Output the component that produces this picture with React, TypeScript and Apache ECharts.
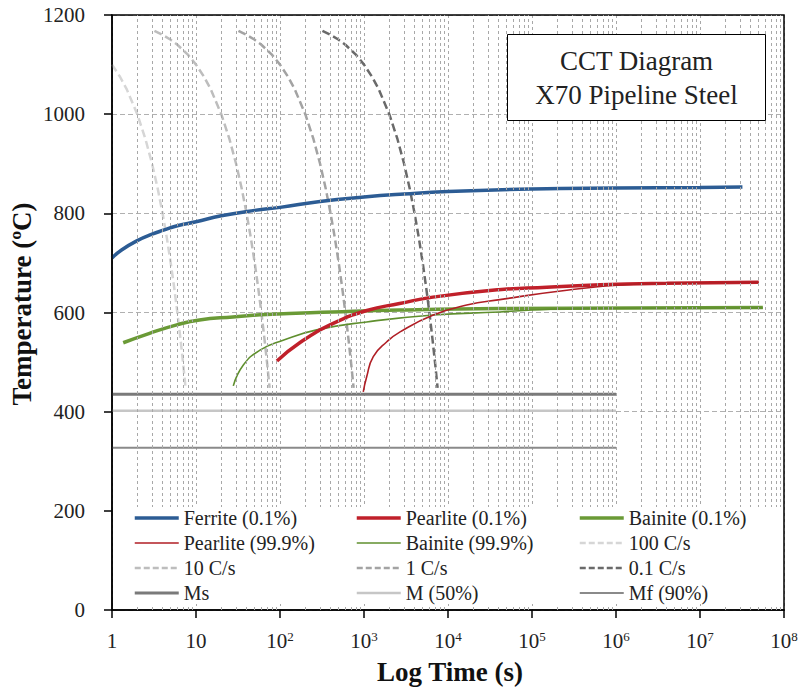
import React, { useEffect, useRef } from "react";
import * as echarts from "echarts";

const FONT = "'Liberation Serif', 'Times New Roman', serif";

// [time (s), temperature (°C)]
const ferrite01 = [[1, 710], [1.3, 726], [2, 745], [3, 758], [4.1, 766], [6, 775], [10, 783], [20, 795], [50, 806], [100, 812], [300, 824], [1000, 833], [3000, 839], [10000, 844], [100000, 849], [1000000, 851], [10000000, 852], [32000000, 853]];
const pearlite01 = [[92, 502], [175, 540], [430, 578], [1080, 604], [2650, 618], [6600, 631], [40000, 646], [150000, 651], [650000, 656], [4000000, 659], [50000000, 661]];
const pearlite999 = [[980, 440], [1075, 470], [1290, 511], [1870, 541], [2690, 561], [6680, 595], [16700, 615], [41400, 626], [260000, 645], [1600000, 657], [10000000, 660], [50000000, 661]];
const bainite01 = [[1.36, 539], [2.8, 558], [5.9, 575], [11, 585], [27.5, 591], [69, 596], [427, 601], [2680, 605], [41400, 608], [56000000, 610]];
const bainite999 = [[27.8, 452], [36.6, 494], [57.8, 524], [109, 544], [273, 565], [1077, 581], [6680, 595], [41400, 601], [100000, 605], [640000, 608.5], [56000000, 609]];
const cool100 = [[1, 1100], [1.25, 1075], [1.5, 1050], [2, 1000], [2.5, 950], [3, 900], [3.5, 850], [4, 800], [4.5, 750], [5, 700], [5.5, 650], [6, 600], [6.5, 550], [7, 500], [7.52, 448]];
const cool10 = [[3.2, 1168], [4, 1160], [5, 1150], [6, 1140], [8, 1120], [10, 1100], [12.5, 1075], [15, 1050], [20, 1000], [25, 950], [30, 900], [35, 850], [40, 800], [45, 750], [50, 700], [55, 650], [60, 600], [65, 550], [70, 500], [75.2, 448]];
const cool1 = [[32, 1168], [40, 1160], [50, 1150], [60, 1140], [80, 1120], [100, 1100], [125, 1075], [150, 1050], [200, 1000], [250, 950], [300, 900], [350, 850], [400, 800], [450, 750], [500, 700], [550, 650], [600, 600], [650, 550], [700, 500], [752, 448]];
const cool01 = [[320, 1168], [400, 1160], [500, 1150], [600, 1140], [800, 1120], [1000, 1100], [1250, 1075], [1500, 1050], [2000, 1000], [2500, 950], [3000, 900], [3500, 850], [4000, 800], [4500, 750], [5000, 700], [5500, 650], [6000, 600], [6500, 550], [7000, 500], [7520, 448]];
const msLine = [[1, 435], [1000000, 435]];
const m50Line = [[1, 402], [1000000, 402]];
const mfLine = [[1, 327], [1000000, 327]];

const legendCol1 = ["Ferrite (0.1%)", "Pearlite (99.9%)", "10 C/s", "Ms"];
const legendCol2 = ["Pearlite (0.1%)", "Bainite (99.9%)", "1 C/s", "M (50%)"];
const legendCol3 = ["Bainite (0.1%)", "100 C/s", "0.1 C/s", "Mf (90%)"];

const titleLines = ["CCT Diagram", "X70 Pipeline Steel"];

const DASH = [8, 4];

const seriesDefs: { name: string; data: number[][]; color: string; width: number; dash?: number[]; smooth?: number }[] = [
  { name: "100 C/s", data: cool100, color: "#d6d6d6", width: 2.5, dash: DASH },
  { name: "10 C/s", data: cool10, color: "#bdbdbd", width: 2.5, dash: DASH },
  { name: "1 C/s", data: cool1, color: "#a3a3a3", width: 2.5, dash: DASH },
  { name: "0.1 C/s", data: cool01, color: "#6a6a6a", width: 2.5, dash: DASH },
  { name: "Ms", data: msLine, color: "#7a7a7a", width: 3 },
  { name: "M (50%)", data: m50Line, color: "#c6c6c6", width: 2.5 },
  { name: "Mf (90%)", data: mfLine, color: "#8a8a8a", width: 2 },
  { name: "Ferrite (0.1%)", data: ferrite01, color: "#2c5c94", width: 3.5, smooth: 0.5 },
  { name: "Bainite (0.1%)", data: bainite01, color: "#6a9a36", width: 3.5, smooth: 0.5 },
  { name: "Bainite (99.9%)", data: bainite999, color: "#5f8f2e", width: 1.6, smooth: 0.5 },
  { name: "Pearlite (0.1%)", data: pearlite01, color: "#c0202a", width: 3.5, smooth: 0.5 },
  { name: "Pearlite (99.9%)", data: pearlite999, color: "#b01e25", width: 1.6, smooth: 0.5 },
];

function legendData(names: string[]) {
  return names.map((n) => {
    const s = seriesDefs.find((d) => d.name === n)!;
    return {
      name: n,
      itemStyle: { color: s.color, borderWidth: 0, opacity: 0 },
      lineStyle: { color: s.color, width: s.width, type: s.dash ? [6, 3] : "solid", opacity: 1 },
    };
  });
}

export default function App() {
  const ref = useRef<HTMLDivElement>(null);
  useEffect(() => {
    if (!ref.current) return;
    const chart = echarts.init(ref.current, undefined, { renderer: "svg" });

    const minorLines: { xAxis: number }[] = [];
    for (let d = 0; d < 8; d++) {
      for (let k = 2; k <= 9; k++) minorLines.push({ xAxis: k * Math.pow(10, d) });
    }

    const legendBase = {
      orient: "vertical",
      top: 508,
      padding: 0,
      itemWidth: 44,
      itemHeight: 14,
      itemGap: 5,
      z: 60,
      selectedMode: false,
      textStyle: { fontFamily: FONT, fontSize: 20, color: "#222" },
    };

    chart.setOption({
      animation: false,
      backgroundColor: "#fff",
      textStyle: { fontFamily: FONT },
      grid: { left: 112, right: 17, top: 15, bottom: 79, show: true, borderColor: "#000", borderWidth: 1.5, z: 3 },
      xAxis: {
        type: "log",
        logBase: 10,
        min: 1,
        max: 100000000,
        splitNumber: 8,
        axisLine: { show: true, lineStyle: { color: "#000", width: 1.5 } },
        axisTick: { show: true, length: 8, lineStyle: { color: "#000", width: 1.5 } },
        splitLine: { show: true, lineStyle: { color: "#a8a8a8", type: [3, 3], width: 1 } },
        axisLabel: {
          margin: 20,
          color: "#222",
          fontFamily: FONT,
          fontSize: 21,
          formatter: (v: number) => {
            const e = Math.round(Math.log10(v));
            if (e === 0) return "1";
            if (e === 1) return "10";
            return "{b|10}{s|" + e + "}";
          },
          rich: {
            b: { fontFamily: FONT, fontSize: 21, color: "#222", lineHeight: 22 },
            s: { fontFamily: FONT, fontSize: 13, color: "#222", verticalAlign: "top", lineHeight: 14 },
          },
        },
      },
      yAxis: {
        type: "value",
        min: 0,
        max: 1200,
        interval: 200,
        axisLine: { show: true, lineStyle: { color: "#000", width: 1.5 } },
        axisTick: { show: true, length: 8, lineStyle: { color: "#000", width: 1.5 } },
        splitLine: { show: true, lineStyle: { color: "#b0b0b0", type: [5, 3], width: 1 } },
        axisLabel: { margin: 27, color: "#222", fontFamily: FONT, fontSize: 21, formatter: (v: number) => String(v) },
      },
      legend: [
        { ...legendBase, left: 133, data: legendData(legendCol1) },
        { ...legendBase, left: 355, data: legendData(legendCol2) },
        { ...legendBase, left: 578, data: legendData(legendCol3) },
      ],
      graphic: [
        { type: "rect", z: 50, shape: { x: 113, y: 507, width: 670, height: 97 }, style: { fill: "#fff" } },
        { type: "rect", z: 50, shape: { x: 507.5, y: 34.5, width: 258, height: 86 }, style: { fill: "#fff", stroke: "#000", lineWidth: 1 } },
        { type: "text", z: 51, x: 636.5, y: 61, style: { text: titleLines[0], fill: "#222", font: `27px ${FONT}`, textAlign: "center", textVerticalAlign: "middle" } },
        { type: "text", z: 51, x: 636.5, y: 95, style: { text: titleLines[1], fill: "#222", font: `27px ${FONT}`, textAlign: "center", textVerticalAlign: "middle" } },
        { type: "text", z: 51, x: 22, y: 304, rotation: Math.PI / 2, style: { text: "Temperature (ºC)", fill: "#111", font: `bold 27px ${FONT}`, textAlign: "center", textVerticalAlign: "middle" } },
        { type: "text", z: 51, x: 450, y: 672, style: { text: "Log Time (s)", fill: "#111", font: `bold 27px ${FONT}`, textAlign: "center", textVerticalAlign: "middle" } },
      ],
      series: [
        {
          type: "line",
          data: [],
          silent: true,
          z: 1,
          markLine: {
            silent: true,
            symbol: ["none", "none"],
            label: { show: false },
            lineStyle: { color: "#a8a8a8", type: [3, 3], width: 1 },
            data: minorLines,
          },
        },
        ...seriesDefs.map((s) => ({
          name: s.name,
          type: "line",
          data: s.data,
          symbol: "none",
          showSymbol: false,
          smooth: s.smooth || false,
          z: 2,
          lineStyle: { color: s.color, width: s.width, type: s.dash || "solid" },
          itemStyle: { color: s.color },
        })),
      ],
    });
    return () => chart.dispose();
  }, []);
  return <div ref={ref} style={{ width: 801, height: 689, position: "absolute", left: 0, top: 0 }} />;
}
